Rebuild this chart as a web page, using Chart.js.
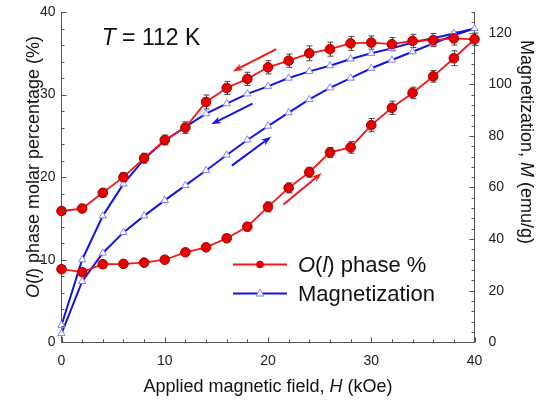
<!DOCTYPE html>
<html>
<head>
<meta charset="utf-8">
<script src="https://cdn.jsdelivr.net/npm/chart.js@4.4.1/dist/chart.umd.min.js"></script>
<style>
  body { margin: 0; background: #fff; }
  canvas { display: block; }
</style>
</head>
<body>
<canvas id="grafico" width="538" height="400"></canvas>
<script>
// campo aplicado (kOe): subida y bajada
const campoSube = [0, 2, 4, 6, 8, 10, 12, 14, 16, 18, 20, 22, 24, 26, 28, 30, 32, 34, 36, 38, 40]
const campoBaja = [38, 36, 34, 32, 30, 28, 26, 24, 22, 20, 18, 16, 14, 12, 10, 8, 6, 4, 2, 0]

// porcentaje de fase O(l)
const faseSube = [8.85, 8.5, 9.45, 9.5, 9.65, 10.0, 10.9, 11.5, 12.6, 14.0, 16.4, 18.7, 20.6, 23.0, 23.6, 26.3, 28.4, 30.2, 32.2, 34.4, 36.7]
const faseBaja = [36.8, 36.6, 36.5, 36.1, 36.3, 36.2, 35.5, 35.0, 34.1, 33.3, 31.9, 30.8, 29.1, 26.0, 24.5, 22.3, 20.0, 18.1, 16.2, 15.9]
const errorSube = [0.4, 0.4, 0.4, 0.4, 0.4, 0.4, 0.4, 0.4, 0.4, 0.5, 0.6, 0.6, 0.6, 0.6, 0.7, 0.8, 0.8, 0.7, 0.7, 0.9, 0.75]
const errorBaja = [0.8, 0.8, 0.8, 0.8, 0.8, 0.85, 0.85, 0.9, 0.8, 0.8, 0.8, 0.8, 0.85, 0.7, 0.6, 0.6, 0.55, 0.5, 0.4, 0.4]

// magnetizacion (emu/g)
const magSube = [3.4, 23.6, 34.6, 42.6, 49.0, 55.0, 60.8, 66.6, 72.6, 78.4, 83.8, 89.0, 94.1, 98.6, 102.4, 106.2, 109.4, 112.6, 115.8, 119.0, 121.6]
const magBaja = [119.7, 117.8, 116.2, 113.9, 112.0, 109.8, 107.2, 105.0, 102.4, 99.2, 96.3, 92.5, 88.6, 83.5, 78.1, 71.0, 61.4, 49.0, 32.0, 6.6]

// flechas [x0, y0, x1, y1] en unidades del eje izquierdo
const flechasRojas = [[20.8, 35.5, 16.6, 32.8], [21.5, 16.7, 25.2, 20.5]]
const flechasAzules = [[18.5, 28.9, 14.5, 26.4], [16.5, 21.4, 20.3, 24.9]]

const ticksX = [0, 10, 20, 30, 40]
const ticksIzq = [0, 10, 20, 30, 40]
const ticksDer = [0, 20, 40, 60, 80, 100, 120]

const FUENTE = '"Liberation Sans", Arial, sans-serif'
const ROJO = '#f01818'
const AZUL = '#1414e0'

const campo = campoSube.concat(campoBaja)
const puntosFase = campo.map((h, i) => ({ x: h, y: faseSube.concat(faseBaja)[i] }))
const errores = errorSube.concat(errorBaja)
const puntosMag = campo.map((h, i) => ({ x: h, y: magSube.concat(magBaja)[i] }))

// texto con partes en cursiva
const textoMixto = (ctx, partes, x, y, tam, ang) => {
    ctx.save()
    ctx.translate(x, y)
    ctx.rotate(ang)
    ctx.textBaseline = 'alphabetic'
    ctx.textAlign = 'left'
    let ancho = 0
    partes.forEach((p) => {
        ctx.font = `${p.it ? 'italic ' : ''}${tam}px ${FUENTE}`
        ancho += ctx.measureText(p.t).width
    })
    let pos = -ancho / 2
    partes.forEach((p) => {
        ctx.font = `${p.it ? 'italic ' : ''}${tam}px ${FUENTE}`
        ctx.fillText(p.t, pos, 0)
        pos += ctx.measureText(p.t).width
    })
    ctx.restore()
}

const dibujaFlecha = (ctx, sx, sy, f, color) => {
    const x0 = sx.getPixelForValue(f[0]), y0 = sy.getPixelForValue(f[1])
    const x1 = sx.getPixelForValue(f[2]), y1 = sy.getPixelForValue(f[3])
    const a = Math.atan2(y1 - y0, x1 - x0)
    ctx.save()
    ctx.strokeStyle = color
    ctx.fillStyle = color
    ctx.lineWidth = 2
    ctx.beginPath()
    ctx.moveTo(x0, y0)
    ctx.lineTo(x1 - 6 * Math.cos(a), y1 - 6 * Math.sin(a))
    ctx.stroke()
    ctx.beginPath()
    ctx.moveTo(x1, y1)
    ctx.lineTo(x1 - 10 * Math.cos(a) + 3.5 * Math.sin(a), y1 - 10 * Math.sin(a) - 3.5 * Math.cos(a))
    ctx.lineTo(x1 - 7 * Math.cos(a), y1 - 7 * Math.sin(a))
    ctx.lineTo(x1 - 10 * Math.cos(a) - 3.5 * Math.sin(a), y1 - 10 * Math.sin(a) + 3.5 * Math.cos(a))
    ctx.closePath()
    ctx.fill()
    ctx.restore()
}

const extras = {
    id: 'extras',
    beforeDatasetsDraw(chart) {
        // barras de error
        const ctx = chart.ctx
        const sx = chart.scales.x, sy = chart.scales.y
        ctx.save()
        ctx.strokeStyle = '#444'
        ctx.lineWidth = 1
        puntosFase.forEach((p, i) => {
            const px = Math.round(sx.getPixelForValue(p.x)) + 0.5
            const a = sy.getPixelForValue(p.y + errores[i])
            const b = sy.getPixelForValue(p.y - errores[i])
            ctx.beginPath()
            ctx.moveTo(px, a); ctx.lineTo(px, b)
            ctx.moveTo(px - 3, a); ctx.lineTo(px + 3, a)
            ctx.moveTo(px - 3, b); ctx.lineTo(px + 3, b)
            ctx.stroke()
        })
        ctx.restore()
    },
    afterDraw(chart) {
        const ctx = chart.ctx
        const { x: sx, y: sy, y2: sd } = chart.scales
        const area = chart.chartArea

        // marcas de los ejes hacia adentro
        ctx.save()
        ctx.strokeStyle = '#555'
        ctx.lineWidth = 1
        ctx.beginPath()
        for (let v = 0; v <= 40; v += 2) {
            const px = Math.round(sx.getPixelForValue(v)) + 0.5
            const l = v % 10 === 0 ? 5 : 3
            ctx.moveTo(px, area.bottom); ctx.lineTo(px, area.bottom - l)
        }
        for (let v = 0; v <= 40; v += 2) {
            const py = Math.round(sy.getPixelForValue(v)) + 0.5
            const l = v % 10 === 0 ? 5 : 3
            ctx.moveTo(area.left, py); ctx.lineTo(area.left + l, py)
        }
        for (let v = 0; v <= 128; v += 4) {
            const py = Math.round(sd.getPixelForValue(v)) + 0.5
            const l = v % 20 === 0 ? 5 : 3
            ctx.moveTo(area.right, py); ctx.lineTo(area.right - l, py)
        }
        ctx.stroke()
        ctx.restore()

        // flechas
        flechasRojas.forEach((f) => dibujaFlecha(ctx, sx, sy, f, ROJO))
        flechasAzules.forEach((f) => dibujaFlecha(ctx, sx, sy, f, AZUL))

        // titulos
        ctx.fillStyle = '#111'
        textoMixto(ctx, [{ t: 'Applied magnetic field, ' }, { t: 'H', it: true }, { t: ' (kOe)' }], 268, 392, 18, 0)
        textoMixto(ctx, [{ t: 'O', it: true }, { t: '(' }, { t: 'l', it: true }, { t: ') phase molar percentage (%)' }], 39, 167, 18, -Math.PI / 2)
        textoMixto(ctx, [{ t: 'Magnetization, ' }, { t: 'M', it: true }, { t: ' (emu/g)' }], 521, 142, 18, Math.PI / 2)
        textoMixto(ctx, [{ t: 'T', it: true }, { t: ' = 112 K' }], 151, 45, 23, 0)

        // leyenda
        ctx.save()
        ctx.lineWidth = 2
        ctx.strokeStyle = ROJO
        ctx.beginPath(); ctx.moveTo(233, 264.5); ctx.lineTo(287, 264.5); ctx.stroke()
        ctx.fillStyle = '#e00000'
        ctx.beginPath(); ctx.arc(260, 264.5, 3.8, 0, Math.PI * 2); ctx.fill()
        ctx.strokeStyle = AZUL
        ctx.beginPath(); ctx.moveTo(233, 293.5); ctx.lineTo(287, 293.5); ctx.stroke()
        ctx.fillStyle = '#fff'
        ctx.strokeStyle = '#8080ff'
        ctx.lineWidth = 1
        ctx.beginPath(); ctx.moveTo(260, 289); ctx.lineTo(264, 296); ctx.lineTo(256, 296); ctx.closePath(); ctx.fill(); ctx.stroke()
        ctx.restore()
        ctx.fillStyle = '#111'
        ctx.font = `italic 22px ${FUENTE}`
        let xt = 298
        ctx.fillText('O', xt, 272); xt += ctx.measureText('O').width
        ctx.font = `22px ${FUENTE}`
        ctx.fillText('(', xt, 272); xt += ctx.measureText('(').width
        ctx.font = `italic 22px ${FUENTE}`
        ctx.fillText('l', xt, 272); xt += ctx.measureText('l').width
        ctx.font = `22px ${FUENTE}`
        ctx.fillText(') phase %', xt, 272)
        ctx.fillText('Magnetization', 298, 301)
    }
}

const ejeBase = {
    type: 'linear',
    grid: { display: false, drawTicks: false },
    border: { color: '#555', width: 1 },
    ticks: { color: '#222', font: { family: FUENTE, size: 14 } }
}

// fija el ancho de un eje vertical y quita el relleno extra de sus etiquetas
const fijaAncho = (ancho) => (e) => {
    e.width = ancho
    e.paddingTop = 0
    e.paddingBottom = 0
}

new Chart(document.getElementById('grafico').getContext('2d'), {
    type: 'line',
    data: {
        datasets: [
            {
                label: 'O(l) phase %',
                data: puntosFase,
                yAxisID: 'y',
                borderColor: ROJO,
                borderWidth: 1.8,
                pointRadius: 4.8,
                pointBackgroundColor: '#e80000',
                pointBorderColor: '#a00000',
                pointBorderWidth: 1,
                tension: 0,
                clip: false
            },
            {
                label: 'Magnetization',
                data: puntosMag,
                yAxisID: 'y2',
                borderColor: AZUL,
                borderWidth: 2,
                pointStyle: 'triangle',
                pointRadius: 4.2,
                pointBackgroundColor: '#ffffff',
                pointBorderColor: '#8080ff',
                pointBorderWidth: 1,
                tension: 0,
                clip: false
            }
        ]
    },
    options: {
        responsive: false,
        animation: false,
        layout: { padding: { top: 12, bottom: 0, left: 0, right: 0 } },
        plugins: { legend: { display: false }, tooltip: { enabled: false } },
        scales: {
            x: {
                ...ejeBase,
                min: 0, max: 40,
                ticks: { ...ejeBase.ticks, padding: 10, callback: (v) => ticksX.includes(v) ? v : null, stepSize: 10 },
                afterFit: (e) => { e.height = 57.7; e.paddingLeft = 0; e.paddingRight = 0 }
            },
            y: {
                ...ejeBase,
                position: 'left',
                min: 0, max: 40,
                ticks: { ...ejeBase.ticks, padding: 6, stepSize: 10, callback: (v) => ticksIzq.includes(v) ? v : null },
                afterFit: fijaAncho(61.5)
            },
            y2: {
                ...ejeBase,
                position: 'right',
                min: 0, max: 128,
                ticks: { ...ejeBase.ticks, padding: 14, stepSize: 20, includeBounds: false, callback: (v) => ticksDer.includes(v) ? v : null },
                afterFit: fijaAncho(63.5)
            }
        }
    },
    plugins: [extras]
})
</script>
</body>
</html>
